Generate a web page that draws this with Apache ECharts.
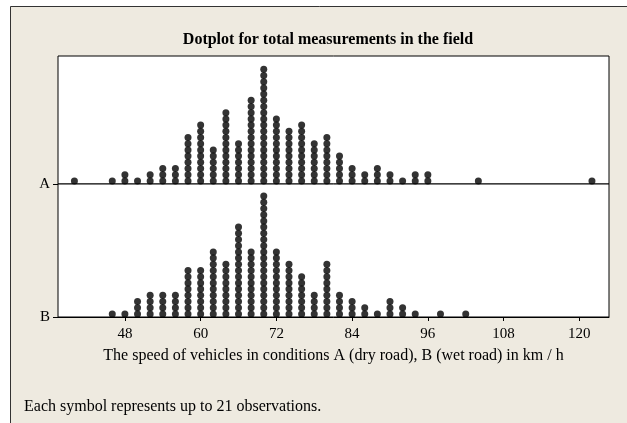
<!DOCTYPE html>
<html><head><meta charset="utf-8">
<script src="https://cdn.jsdelivr.net/npm/echarts@6/dist/echarts.min.js"></script>
<style>html,body{margin:0;padding:0;background:#fff}#c{width:627px;height:423px}</style>
</head><body><div id="c"></div>
<script>
const speedsA = [40,46,48,50,52,54,56,58,60,62,64,66,68,70,72,74,76,78,80,82,84,86,88,90,92,94,96,104,122];
const countsA = [1,1,2,1,2,3,3,8,10,6,12,7,14,19,11,9,10,7,8,5,3,2,3,2,1,2,2,1,1];
const speedsB = [46,48,50,52,54,56,58,60,62,64,66,68,70,72,74,76,78,80,82,84,86,88,90,92,94,98,102];
const countsB = [1,1,3,4,4,4,8,8,11,9,15,11,20,11,9,7,4,9,4,3,2,1,3,2,1,1,1];
const tickValues = [48,60,72,84,96,108,120];
const panelLabels = ['A','B'];
const titleText = 'Dotplot for total measurements in the field';
const axisTitle = 'The speed of vehicles in conditions A (dry road), B (wet road) in km / h';
const footnote = 'Each symbol represents up to 21 observations.';

function toPoints(speeds, counts){
  const pts = [];
  speeds.forEach((s,i)=>{ for(let k=1;k<=counts[i];k++) pts.push([s, k-0.5]); });
  return pts;
}
const FONT = "'Liberation Serif','Times New Roman',serif";
const XMIN = 37.4, XMAX = 124.7;
const chart = echarts.init(document.getElementById('c'), null, {renderer:'canvas'});
const yAxisFor = (gi, max, label) => ({
  gridIndex: gi, type:'value', min:0, max:max,
  axisLine:{show:false}, splitLine:{show:false},
  axisTick:{show:true, customValues:[0], length:5, inside:false, lineStyle:{color:'#000', width:1}},
  axisLabel:{show:true, customValues:[0], formatter:()=>label, margin:8, color:'#000', fontFamily:FONT, fontSize:15}
});
chart.setOption({
  animation:false,
  backgroundColor:'#fff',
  graphic:[
    {type:'rect', z:-10, silent:true, shape:{x:10.5, y:6.5, width:700, height:500},
     style:{fill:'#EEEAE0', stroke:'#333', lineWidth:1}},
    {type:'text', left:24, top:399, silent:true,
     style:{text:footnote, fill:'#000', font:"16px 'Liberation Serif','Times New Roman',serif"}}
  ],
  title:{text:titleText, left:323, top:27, textAlign:'center',
    textStyle:{fontFamily:FONT, fontSize:16, fontWeight:'bold', color:'#000'}},
  grid:[
    {left:58, right:18, top:56, height:128, show:true, backgroundColor:'#fff', borderColor:'#000', borderWidth:1},
    {left:58, right:18, top:184, height:133, show:true, backgroundColor:'#fff', borderColor:'#000', borderWidth:1}
  ],
  xAxis:[
    {gridIndex:0, type:'value', min:XMIN, max:XMAX, show:false},
    {gridIndex:1, type:'value', min:XMIN, max:XMAX,
     axisLine:{show:true, lineStyle:{color:'#000', width:1}},
     splitLine:{show:false},
     axisTick:{show:true, customValues:tickValues, length:4, lineStyle:{color:'#000'}},
     axisLabel:{customValues:tickValues, color:'#000', fontFamily:FONT, fontSize:15, margin:10},
     name:axisTitle, nameLocation:'middle', nameGap:31,
     nameTextStyle:{color:'#000', fontFamily:FONT, fontSize:16}}
  ],
  yAxis:[ yAxisFor(0, 128/6.2, panelLabels[0]), yAxisFor(1, 133/6.2, panelLabels[1]) ],
  series:[
    {type:'scatter', xAxisIndex:0, yAxisIndex:0, data:toPoints(speedsA, countsA), symbol:'circle', symbolSize:7, itemStyle:{color:'#000'}},
    {type:'scatter', xAxisIndex:1, yAxisIndex:1, data:toPoints(speedsB, countsB), symbol:'circle', symbolSize:7, itemStyle:{color:'#000'}}
  ]
});
</script></body></html>
